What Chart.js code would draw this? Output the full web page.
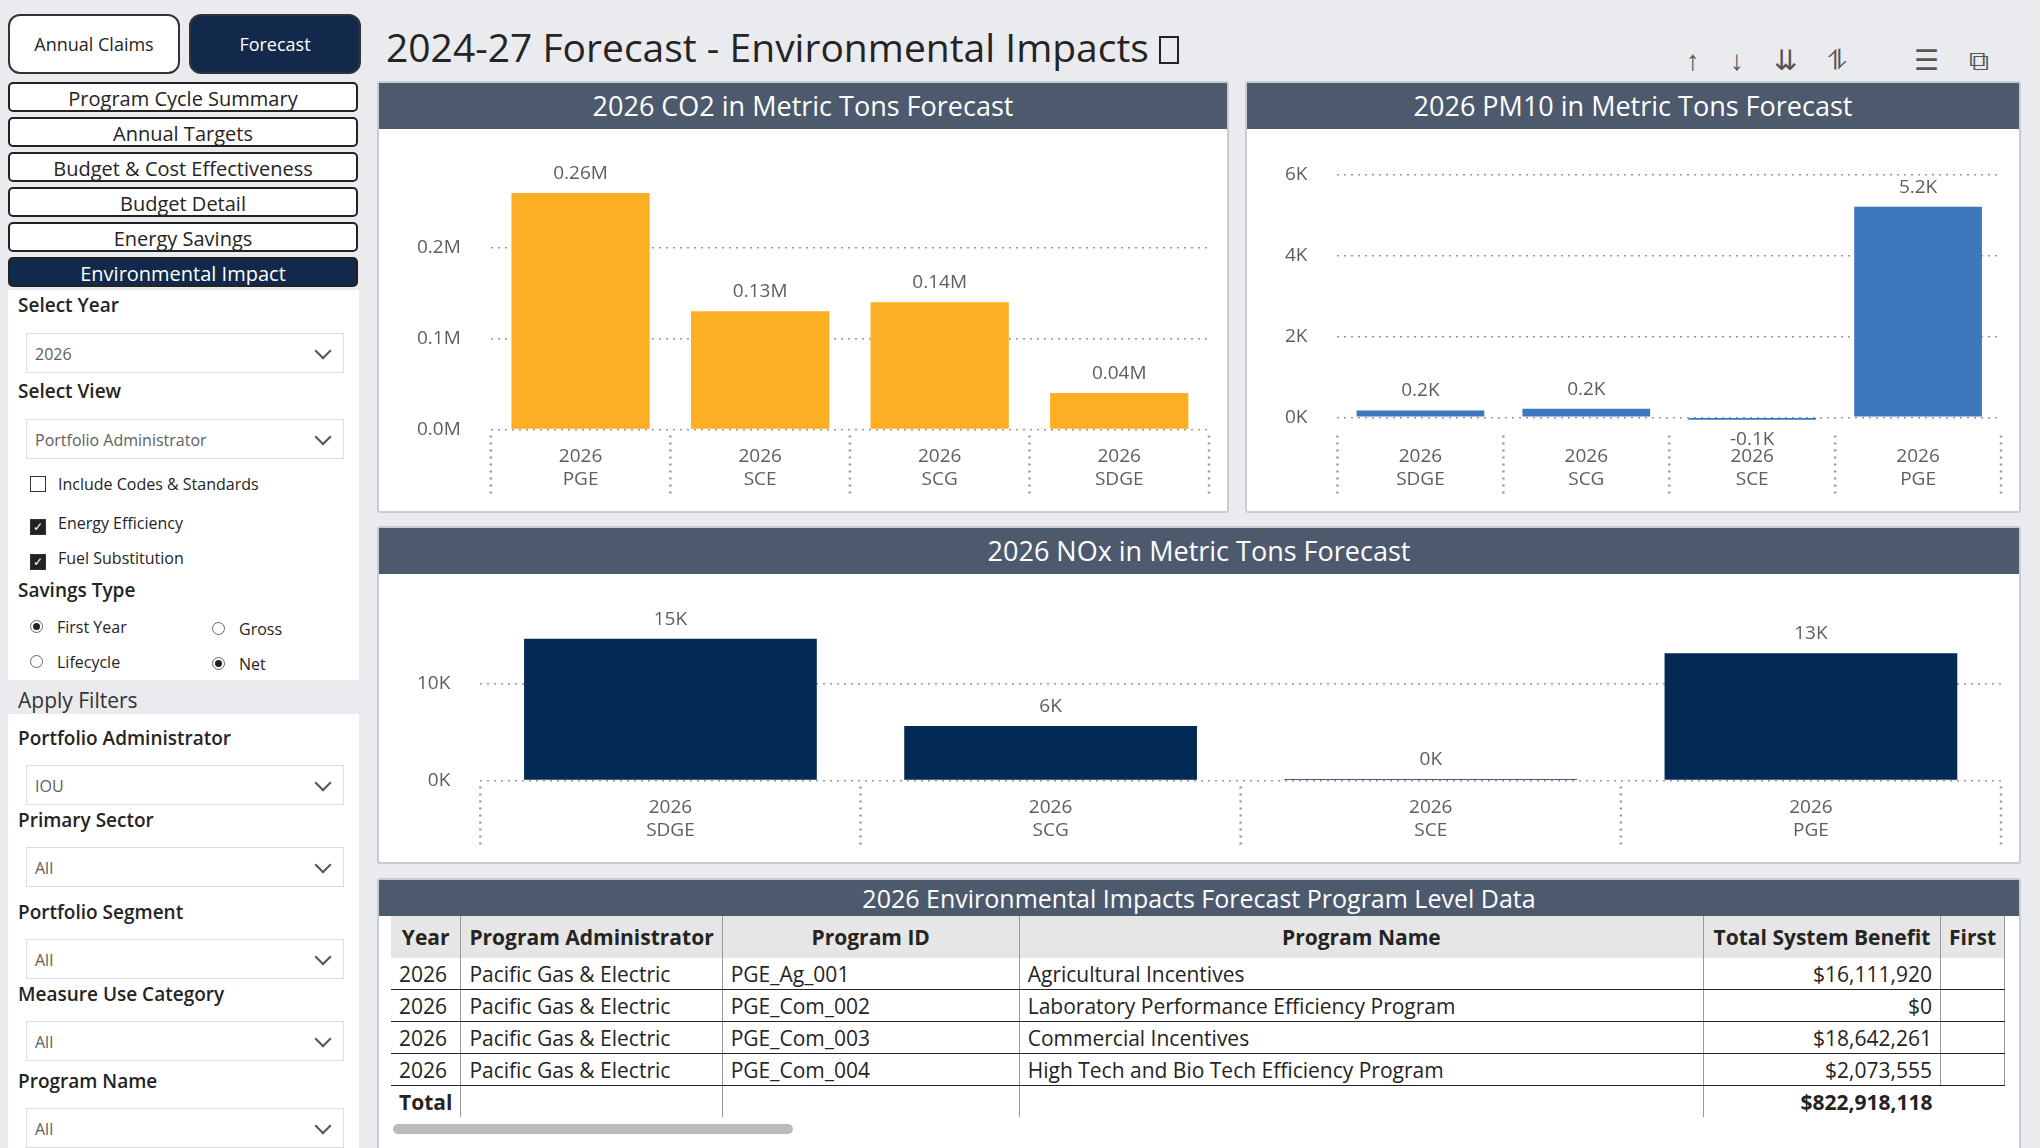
<!DOCTYPE html>
<html><head><meta charset="utf-8">
<script src="https://cdn.jsdelivr.net/npm/chart.js"></script>
<style>
body{margin:0;width:2040px;height:1148px;background:#eaebee;font-family:"Open Sans",sans-serif;position:relative;overflow:hidden;color:#252423}
.abs{position:absolute}
.btn{position:absolute;border:2px solid #333;border-radius:12px;background:#fff;font-size:18px;display:flex;align-items:center;justify-content:center}
.nav{position:absolute;left:8px;width:346px;height:26px;border:2px solid #222;border-radius:5px;background:#fff;font-size:20px;text-align:center;line-height:30px;overflow:hidden}
.panel{position:absolute;background:#fff;border:2px solid #c8ccd2;border-radius:3px}
.hdr{background:#4d5a6e;color:#fff;font-size:27px;text-align:center;height:46px;line-height:46px}
.lbl{position:absolute;left:18px;font-size:19px;font-weight:600}
.dd{position:absolute;left:26px;width:318px;height:40px;border:1px solid #ddd;background:#fff;font-size:16px;color:#605e5c;line-height:40px;padding-left:8px;box-sizing:border-box}
.dd:after{content:"";position:absolute;right:14px;top:11px;width:10px;height:10px;border-right:2px solid #555;border-bottom:2px solid #555;transform:rotate(45deg)}
.opt{position:absolute;font-size:16px}
.cb{display:inline-block;width:14px;height:14px;border:1px solid #333;vertical-align:-2px;margin-right:12px;text-align:center;line-height:14px;font-size:12px}
.cb.on{background:#222;color:#fff}
.rd{display:inline-block;width:11px;height:11px;border:1px solid #666;border-radius:50%;margin-right:14px;vertical-align:0px;position:relative}
.rd.on:after{content:"";position:absolute;left:2px;top:2px;width:7px;height:7px;border-radius:50%;background:#222}
table{border-collapse:collapse;font-size:21px;white-space:nowrap}
th{background:#e6e6e6;font-weight:700;height:42px;border-right:1px solid #999;padding:0 8px}
td{height:31px;border-bottom:1px solid #222;padding:0 8px;border-right:1px solid #999}
</style></head><body>
<div class="btn" style="left:8px;top:14px;width:168px;height:56px">Annual Claims</div>
<div class="btn" style="left:189px;top:14px;width:168px;height:56px;background:#13294b;color:#fff">Forecast</div>
<div class="nav" style="top:82px">Program Cycle Summary</div>
<div class="nav" style="top:117px">Annual Targets</div>
<div class="nav" style="top:152px">Budget &amp; Cost Effectiveness</div>
<div class="nav" style="top:187px">Budget Detail</div>
<div class="nav" style="top:222px">Energy Savings</div>
<div class="nav" style="top:257px;background:#13294b;color:#fff">Environmental Impact</div>
<div class="abs" style="left:8px;top:290px;width:351px;height:390px;background:#fff"></div>
<div class="lbl" style="top:292px">Select Year</div>
<div class="dd" style="top:333px">2026</div>
<div class="lbl" style="top:378px">Select View</div>
<div class="dd" style="top:419px">Portfolio Administrator</div>
<div class="opt" style="left:30px;top:473px"><span class="cb"></span>Include Codes &amp; Standards</div>
<div class="opt" style="left:30px;top:512px"><span class="cb on">✓</span>Energy Efficiency</div>
<div class="opt" style="left:30px;top:547px"><span class="cb on">✓</span>Fuel Substitution</div>
<div class="lbl" style="top:577px">Savings Type</div>
<div class="opt" style="left:30px;top:616px"><span class="rd on"></span>First Year</div>
<div class="opt" style="left:212px;top:618px"><span class="rd"></span>Gross</div>
<div class="opt" style="left:30px;top:651px"><span class="rd"></span>Lifecycle</div>
<div class="opt" style="left:212px;top:653px"><span class="rd on"></span>Net</div>
<div class="abs" style="left:18px;top:686px;font-size:21px;color:#333">Apply Filters</div>
<div class="abs" style="left:8px;top:714px;width:351px;height:440px;background:#fff"></div>
<div class="lbl" style="top:725px">Portfolio Administrator</div>
<div class="dd" style="top:765px">IOU</div>
<div class="lbl" style="top:807px">Primary Sector</div>
<div class="dd" style="top:847px">All</div>
<div class="lbl" style="top:899px">Portfolio Segment</div>
<div class="dd" style="top:939px">All</div>
<div class="lbl" style="top:981px">Measure Use Category</div>
<div class="dd" style="top:1021px">All</div>
<div class="lbl" style="top:1068px">Program Name</div>
<div class="dd" style="top:1108px">All</div>

<div class="abs" style="left:386px;top:20px;font-size:39px;color:#252423">2024-27 Forecast - Environmental Impacts <span style="display:inline-block;width:16px;height:24px;border:2px solid #222;vertical-align:-2px"></span></div>
<div class="abs" style="left:1686px;top:40px;font-size:28px;color:#555;letter-spacing:30px">↑↓⇊⥮ ☰⧉</div>

<div class="panel" style="left:377px;top:81px;width:848px;height:428px"><div class="hdr">2026 CO2 in Metric Tons Forecast</div><div style="position:relative;height:378px;padding:0 8px"><canvas id="co2"></canvas></div></div>
<div class="panel" style="left:1245px;top:81px;width:772px;height:428px"><div class="hdr">2026 PM10 in Metric Tons Forecast</div><div style="position:relative;height:378px;padding:0 8px"><canvas id="pm10"></canvas></div></div>
<div class="panel" style="left:377px;top:526px;width:1640px;height:334px"><div class="hdr">2026 NOx in Metric Tons Forecast</div><div style="position:relative;height:284px;padding:0 8px"><canvas id="nox"></canvas></div></div>

<div class="panel" style="left:377px;top:878px;width:1640px;height:270px;overflow:hidden">
<div class="hdr" style="height:36px;line-height:36px;font-size:25px">2026 Environmental Impacts Forecast Program Level Data</div>
<table style="margin-left:12px;width:1614px">
<tr><th style="width:50px">Year</th><th style="width:240px">Program Administrator</th><th style="width:280px">Program ID</th><th>Program Name</th><th style="width:220px">Total System Benefit</th><th style="width:40px;text-align:left">First</th></tr>
<tbody id="tb"></tbody>
</table>
<div class="abs" style="left:14px;top:244px;width:400px;height:10px;border-radius:5px;background:#bbb"></div>
</div>
<script>
const co2Cats = [["2026","PGE"],["2026","SCE"],["2026","SCG"],["2026","SDGE"]];
const co2Vals = [260000, 130000, 140000, 40000];
const co2Ticks = [0, 100000, 200000];
const pmCats = [["2026","SDGE"],["2026","SCG"],["2026","SCE"],["2026","PGE"]];
const pmVals = [170, 210, -60, 5200];
const pmTicks = [0, 2000, 4000, 6000];
const noxCats = [["2026","SDGE"],["2026","SCG"],["2026","SCE"],["2026","PGE"]];
const noxVals = [14600, 5600, 150, 13100];
const noxTicks = [0, 10000];
const rowYear = ["2026","2026","2026","2026"];
const rowPA = ["Pacific Gas & Electric","Pacific Gas & Electric","Pacific Gas & Electric","Pacific Gas & Electric"];
const rowID = ["PGE_Ag_001","PGE_Com_002","PGE_Com_003","PGE_Com_004"];
const rowName = ["Agricultural Incentives","Laboratory Performance Efficiency Program","Commercial Incentives","High Tech and Bio Tech Efficiency Program"];
const rowTSB = ["$16,111,920","$0","$18,642,261","$2,073,555"];
const totalTSB = "$822,918,118";

let h = '';
rowYear.forEach((y, i) => {
  h += `<tr><td>${y}</td><td>${rowPA[i].replace('&','&amp;')}</td><td>${rowID[i]}</td><td>${rowName[i]}</td><td style="text-align:right">${rowTSB[i]}</td><td></td></tr>`;
});
h += `<tr><td style="font-weight:700;border:none;border-right:1px solid #999">Total</td><td style="border:none;border-right:1px solid #999"></td><td style="border:none;border-right:1px solid #999"></td><td style="border:none;border-right:1px solid #999"></td><td style="text-align:right;font-weight:700;border:none">${totalTSB}</td><td style="border:none"></td></tr>`;
document.getElementById('tb').innerHTML = h;

const valueLabels = {
  id: 'valueLabels',
  afterDatasetsDraw(chart, args, opts) {
    const ctx = chart.ctx;
    const ds = chart.data.datasets[0];
    chart.getDatasetMeta(0).data.forEach((bar, i) => {
      const v = ds.data[i];
      ctx.save();
      ctx.font = '19px "Open Sans"';
      ctx.fillStyle = '#605e5c';
      ctx.textAlign = 'center';
      ctx.textBaseline = v >= 0 ? 'bottom' : 'top';
      ctx.fillText(opts.fmt(v), bar.x, v >= 0 ? bar.y - 10 : bar.y + 10);
      ctx.restore();
    });
  }
};

// dotted separators between categories, below the axis
const separators = {
  id: 'separators',
  afterDraw(chart) {
    const ctx = chart.ctx, xs = chart.scales.x, ys = chart.scales.y;
    const n = chart.data.labels.length;
    const step = (xs.getPixelForValue(1) - xs.getPixelForValue(0));
    ctx.save();
    ctx.strokeStyle = '#999';
    ctx.lineWidth = 2.5;
    ctx.setLineDash([2, 5]);
    for (let i = 0; i <= n; i++) {
      const x = xs.getPixelForValue(0) - step / 2 + i * step;
      ctx.beginPath();
      ctx.moveTo(x, ys.bottom + 6);
      ctx.lineTo(x, chart.chartArea.bottom + 66);
      ctx.stroke();
    }
    ctx.restore();
  }
};

function makeChart(id, cats, vals, ticks, color, min, max, fmtTick, fmtLbl, pct) {
  new Chart(document.getElementById(id), {
    type: 'bar',
    data: { labels: cats, datasets: [{ data: vals, backgroundColor: color, categoryPercentage: pct, barPercentage: 1 }] },
    plugins: [valueLabels, separators],
    options: {
      responsive: true, maintainAspectRatio: false, animation: false,
      layout: { padding: { top: 10, right: 10, bottom: 8 } },
      plugins: { legend: { display: false }, tooltip: { enabled: false }, valueLabels: { fmt: fmtLbl } },
      scales: {
        x: {
          grid: { display: false },
          border: { display: false },
          ticks: { font: { size: 19, family: 'Open Sans' }, color: '#605e5c', padding: 8 }
        },
        y: {
          min: min, max: max,
          afterBuildTicks: s => { s.ticks = ticks.map(v => ({ value: v })); },
          grid: { color: '#999', lineWidth: 1.5, drawTicks: false },
          border: { display: false, dash: [2, 5] },
          ticks: { font: { size: 19, family: 'Open Sans' }, color: '#605e5c', padding: 30, callback: fmtTick }
        }
      }
    }
  });
}
makeChart('co2', co2Cats, co2Vals, co2Ticks, '#fcaf24', 0, 285000,
  v => (v / 1e6).toFixed(1) + 'M', v => (v / 1e6).toFixed(2) + 'M', 0.77);
makeChart('pm10', pmCats, pmVals, pmTicks, '#3d77be', -300, 6100,
  v => (v / 1000) + 'K', v => (v / 1000).toFixed(1) + 'K', 0.77);
makeChart('nox', noxCats, noxVals, noxTicks, '#032a54', 0, 17000,
  v => (v / 1000) + 'K', v => Math.round(v / 1000) + 'K', 0.77);
</script>
</body></html>
